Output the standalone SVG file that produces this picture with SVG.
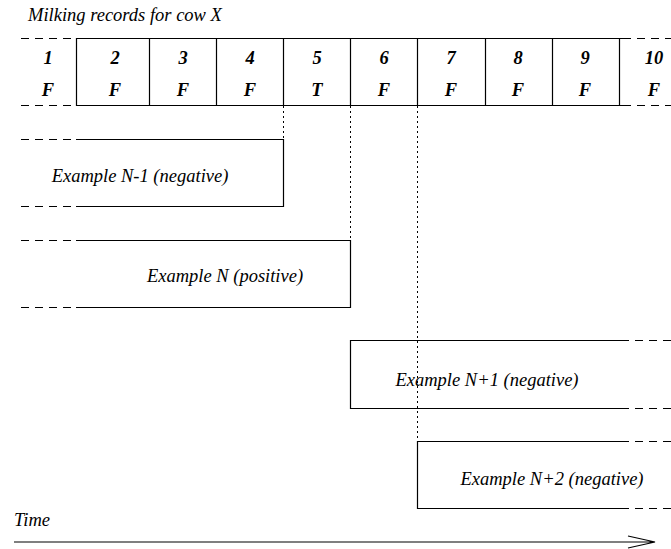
<svg xmlns="http://www.w3.org/2000/svg" width="671" height="549" viewBox="0 0 671 549">
<style>
text{font-family:'Liberation Serif','Times New Roman',serif;font-style:italic;font-size:18.5px;fill:#000}
.c{text-anchor:middle}
.b{font-weight:bold}
.s{stroke:#000;stroke-width:1.2;fill:none}
.d{stroke:#000;stroke-width:1.2;fill:none;stroke-dasharray:8 6}
.o{stroke:#000;stroke-width:1;fill:none;stroke-dasharray:2 3}
</style>
<rect width="671" height="549" fill="#fff"/>
<text x="28" y="21">Milking records for cow X</text>
<g id="records">
<path class="d" d="M21 38.5H76M21 105.5H76M623 38.5H671M623 105.5H671"/>
<path class="s" d="M76 38.5H623M76 105.5H623M76.5 38V106M149.5 38V106M216.5 38V106M283.5 38V106M350.5 38V106M417.5 38V106M485.5 38V106M552.5 38V106M619.5 38V106"/>
<text class="c b" x="48" y="64">1</text><text class="c b" x="48" y="96">F</text>
<text class="c b" x="115" y="64">2</text><text class="c b" x="115" y="96">F</text>
<text class="c b" x="183" y="64">3</text><text class="c b" x="183" y="96">F</text>
<text class="c b" x="250" y="64">4</text><text class="c b" x="250" y="96">F</text>
<text class="c b" x="317" y="64">5</text><text class="c b" x="317" y="96">T</text>
<text class="c b" x="384" y="64">6</text><text class="c b" x="384" y="96">F</text>
<text class="c b" x="451" y="64">7</text><text class="c b" x="451" y="96">F</text>
<text class="c b" x="518" y="64">8</text><text class="c b" x="518" y="96">F</text>
<text class="c b" x="585" y="64">9</text><text class="c b" x="585" y="96">F</text>
<text class="c b" x="654" y="64">10</text><text class="c b" x="654" y="96">F</text>
</g>
<g id="connectors">
<path class="o" d="M283.5 106V139M350.5 106V240M417.5 106V441"/>
</g>
<g id="exN-1">
<path class="d" d="M21 139.5H76M21 206.5H76"/>
<path class="s" d="M76 139.5H283.5V206.5H76"/>
<text class="c" x="140" y="182">Example N-1 (negative)</text>
</g>
<g id="exN">
<path class="d" d="M21 240.5H76M21 307.5H76"/>
<path class="s" d="M76 240.5H350.5V307.5H76"/>
<text class="c" x="225" y="282">Example N (positive)</text>
</g>
<g id="exN1">
<path class="s" d="M621 340.5H350.5V408.5H621"/>
<path class="d" d="M621 340.5H671M621 408.5H671"/>
<text class="c" x="487" y="386">Example N+1 (negative)</text>
</g>
<g id="exN2">
<path class="s" d="M621 441.5H417.5V508.5H621"/>
<path class="d" d="M621 441.5H671M621 508.5H671"/>
<text class="c" x="552" y="485">Example N+2 (negative)</text>
</g>
<g id="time">
<text x="14" y="526">Time</text>
<path class="s" d="M14 542H655M628 536L655 542L628 548" stroke-width="1.5"/>
</g>
</svg>
